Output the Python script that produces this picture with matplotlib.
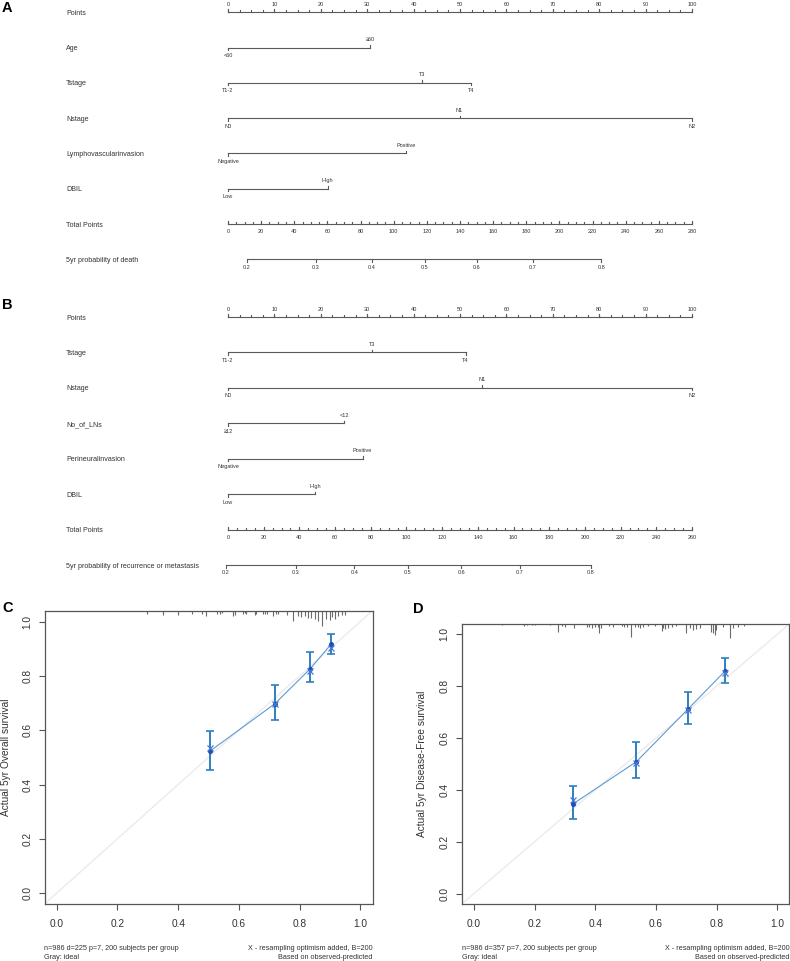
"""Nomograms (A, B) and calibration curves (C, D)."""
import numpy as np
import matplotlib
matplotlib.use("Agg")
import matplotlib.pyplot as plt
import matplotlib.transforms as mtransforms

plt.rcParams['font.family'] = ['Liberation Sans', 'DejaVu Sans']

# ---- nomogram A (5yr death) ----
a_names = ['Age', 'Tstage', 'Nstage', 'Lymphovascularinvasion', 'DBIL']
a_levels = [['<60', '≥60'], ['T1-2', 'T3', 'T4'], ['N0', 'N1', 'N2'],
            ['Negative', 'Positive'], ['Low', 'High']]
a_points = [[0, 30.6], [0, 41.9, 52.3], [0, 49.9, 100], [0, 38.3], [0, 21.5]]
a_total_max = 280
a_prob = [0.2, 0.3, 0.4, 0.5, 0.6, 0.7, 0.8]
a_prob_tp = [11.5, 53, 87, 118.6, 150, 183.9, 225.3]
a_prob_label = '5yr probability of death'

# ---- nomogram B (5yr recurrence) ----
b_names = ['Tstage', 'Nstage', 'No_of_LNs', 'Perineuralinvasion', 'DBIL']
b_levels = [['T1-2', 'T3', 'T4'], ['N0', 'N1', 'N2'], ['≥12', '<12'],
            ['Negative', 'Positive'], ['Low', 'High']]
b_points = [[0, 31.1, 51.2], [0, 54.7, 100], [0, 25.0], [0, 29.0], [0, 18.8]]
b_total_max = 260
b_prob = [0.2, 0.3, 0.4, 0.5, 0.6, 0.7, 0.8]
b_prob_tp = [-1.3, 38.1, 70.8, 100.7, 130.6, 163.6, 203.2]
b_prob_label = '5yr probability of recurrence or metastasis'

# ---- calibration C (overall survival) ----
c_pred = [0.505, 0.718, 0.834, 0.903]
c_obs = [0.523, 0.697, 0.825, 0.916]
c_lo = [0.455, 0.639, 0.777, 0.879]
c_hi = [0.597, 0.767, 0.887, 0.953]
c_corr = [0.536, 0.695, 0.819, 0.904]
c_rug_x = [0.299, 0.349, 0.400, 0.446, 0.477, 0.493, 0.528, 0.537, 0.543, 0.581,
           0.587, 0.612, 0.619, 0.625, 0.652, 0.658, 0.680, 0.686, 0.691, 0.713,
           0.721, 0.729, 0.757, 0.778, 0.795, 0.806, 0.817, 0.828, 0.839, 0.850,
           0.861, 0.875, 0.888, 0.899, 0.908, 0.915, 0.926, 0.938, 0.948]
c_rug_n = [3, 4, 4, 3, 3, 5, 3, 3, 2, 5,
           4, 3, 2, 3, 4, 3, 3, 3, 3, 5,
           3, 3, 4, 10, 5, 6, 5, 7, 7, 8,
           10, 15, 8, 9, 6, 8, 5, 4, 4]
c_ylabel = 'Actual 5yr Overall survival'
c_note = 'n=986 d=225 p=7, 200 subjects per group'

# ---- calibration D (disease-free survival) ----
d_pred = [0.327, 0.536, 0.707, 0.827]
d_obs = [0.346, 0.509, 0.713, 0.857]
d_lo = [0.286, 0.447, 0.654, 0.812]
d_hi = [0.414, 0.585, 0.779, 0.907]
d_corr = [0.360, 0.505, 0.708, 0.850]
d_rug_x = [0.093, 0.164, 0.175, 0.192, 0.203, 0.252, 0.276, 0.290, 0.301, 0.329,
           0.373, 0.381, 0.389, 0.398, 0.408, 0.414, 0.420, 0.444, 0.460, 0.488,
           0.495, 0.504, 0.517, 0.531, 0.542, 0.548, 0.559, 0.575, 0.597, 0.619,
           0.624, 0.630, 0.641, 0.652, 0.668, 0.701, 0.712, 0.723, 0.734, 0.745,
           0.783, 0.789, 0.794, 0.799, 0.822, 0.844, 0.854, 0.871, 0.891]
d_rug_n = [1, 2, 1, 1, 1, 1, 8, 2, 3, 4,
           3, 3, 4, 3, 3, 9, 4, 2, 3, 2,
           3, 3, 13, 3, 3, 4, 3, 2, 2, 7,
           4, 5, 4, 3, 2, 9, 4, 6, 5, 4,
           8, 9, 11, 6, 3, 14, 4, 3, 2]
d_ylabel = 'Actual 5yr Disease-Free survival'
d_note = 'n=986 d=357 p=7, 200 subjects per group'

W, H = 790, 961
TXT = '#333333'
LN = '#5a5a5a'
fig = plt.figure(figsize=(W / 100, H / 100), dpi=100)


def fx(px):
    return px / W


def fy(py):
    return 1 - py / H


def nomogram(top, bottom, names, levels, points, total_max, prob, prob_tp, prob_label):
    ax = fig.add_axes([fx(228), fy(bottom), fx(464), (bottom - top) / H])
    ax.set_xlim(0, 100)
    ax.set_ylim(7, 0)
    ax.axis('off')
    p = (bottom - top) / 7.0  # pixels per row
    u = 1.0 / p               # one pixel in row units
    kw = dict(color=LN, lw=0.8, clip_on=False)
    tk = dict(fontsize=4, color=TXT, ha='center', va='center', clip_on=False)
    lab_x = fx(66)

    def row_label(i, s):
        yy = fy(top + i * p + 1)
        fig.text(lab_x, yy, s, fontsize=5.1, color=TXT, ha='left', va='center')

    # points scale
    row_label(0, 'Points')
    ax.plot([0, 100], [0, 0], **kw)
    for v in np.arange(0, 100.1, 2.5):
        ax.plot([v, v], [0, -2 * u], **kw)
    for v in range(0, 101, 10):
        ax.plot([v, v], [0, -2.8 * u], **kw)
        ax.text(v, -7.5 * u, str(v), **tk)

    # predictors
    for i, (nm, lv, pt) in enumerate(zip(names, levels, points), start=1):
        row_label(i, nm)
        ax.plot([min(pt), max(pt)], [i, i], **kw)
        for j, (s, v) in enumerate(zip(lv, pt)):
            side = 1 if j % 2 == 0 else -1
            ax.plot([v, v], [i, i + side * 2.5 * u], **kw)
            ax.text(v, i + side * 8 * u, s, **tk)

    # total points
    it = len(names) + 1
    row_label(it, 'Total Points')
    k = 100.0 / total_max
    ax.plot([0, 100], [it, it], **kw)
    for v in range(0, total_max + 1, 5):
        ax.plot([v * k, v * k], [it, it - 2 * u], **kw)
    for v in range(0, total_max + 1, 20):
        ax.plot([v * k, v * k], [it, it - 2.6 * u], **kw)
        ax.text(v * k, it + 7.5 * u, str(v), **tk)

    # probability
    ip = it + 1
    row_label(ip, prob_label)
    xs = [t * k for t in prob_tp]
    ax.plot([xs[0], xs[-1]], [ip, ip], **kw)
    for pr, x in zip(prob, xs):
        ax.plot([x, x], [ip, ip + 2.5 * u], **kw)
        ax.text(x, ip + 8 * u, f'{pr:.1f}', **tk)
    return ax


def calib(left, right, top, bottom, pred, obs, lo, hi, corr, rug_x, rug_n,
          ylabel, note, ylab_x):
    ax = fig.add_axes([fx(left), fy(bottom), fx(right - left), (bottom - top) / H])
    ax.set_xlim(-0.04, 1.04)
    ax.set_ylim(-0.04, 1.04)
    ax.plot([-0.04, 1.04], [-0.04, 1.04], color='#ebebeb', lw=1.0, zorder=1)
    # rug / spike histogram hanging from top
    trans = mtransforms.blended_transform_factory(ax.transData, ax.transAxes)
    hpx = bottom - top
    ax.vlines(rug_x, [1 - n / hpx for n in rug_n], 1, colors='#6b6b6b', lw=0.8,
              transform=trans, zorder=2)
    ax.errorbar(pred, obs, yerr=[np.subtract(obs, lo), np.subtract(hi, obs)],
                fmt='none', ecolor='#2f7fc1', elinewidth=1.4, capsize=2.6,
                capthick=1.2, zorder=3)
    ax.plot(pred, obs, color='#5b9bd5', lw=0.8, zorder=3)
    ax.plot(pred, obs, 'o', color='#1d50b0', ms=2.6, zorder=4)
    ax.plot(pred, corr, 'x', color='#4a78d6', ms=4, mew=0.9, zorder=4)
    ticks = [0, 0.2, 0.4, 0.6, 0.8, 1.0]
    ax.set_xticks(ticks)
    ax.set_yticks(ticks)
    ax.set_xticklabels([f'{t:.1f}' for t in ticks])
    ax.set_yticklabels([f'{t:.1f}' for t in ticks], rotation=90, va='center')
    ax.tick_params(axis='both', direction='out', length=4.3, width=0.8,
                   colors='#555555', labelcolor=TXT, labelsize=7.3)
    ax.tick_params(axis='x', pad=6.5)
    ax.tick_params(axis='y', pad=4.5)
    for sp in ax.spines.values():
        sp.set_color('#555555')
        sp.set_linewidth(0.9)
    fig.text(fx(ylab_x), fy((top + bottom) / 2), ylabel, rotation=90,
             fontsize=7.3, color=TXT, ha='center', va='center')
    fs = 5.2
    fig.text(fx(left), fy(948), note, fontsize=fs, color=TXT, ha='left', va='center')
    fig.text(fx(left), fy(957.5), 'Gray: ideal', fontsize=fs, color=TXT,
             ha='left', va='center')
    fig.text(fx(right), fy(948), 'X - resampling optimism added, B=200',
             fontsize=fs, color=TXT, ha='right', va='center')
    fig.text(fx(right), fy(957.5), 'Based on observed-predicted', fontsize=fs,
             color=TXT, ha='right', va='center')
    return ax


nomogram(12.3, 259.3, a_names, a_levels, a_points, a_total_max,
         a_prob, a_prob_tp, a_prob_label)
nomogram(317, 565, b_names, b_levels, b_points, b_total_max,
         b_prob, b_prob_tp, b_prob_label)
calib(44.5, 372.5, 610.7, 904, c_pred, c_obs, c_lo, c_hi, c_corr,
      c_rug_x, c_rug_n, c_ylabel, c_note, 6.5)
calib(461.7, 789.3, 624, 904, d_pred, d_obs, d_lo, d_hi, d_corr,
      d_rug_x, d_rug_n, d_ylabel, d_note, 422)

for s, x, y in [('A', 2, 8), ('B', 2, 305), ('C', 2, 608.5), ('D', 413, 609)]:
    fig.text(fx(x), fy(y), s, fontsize=10.5, fontweight='bold', color='black',
             ha='left', va='center')

fig.savefig('out.png', dpi=100, facecolor='w')
